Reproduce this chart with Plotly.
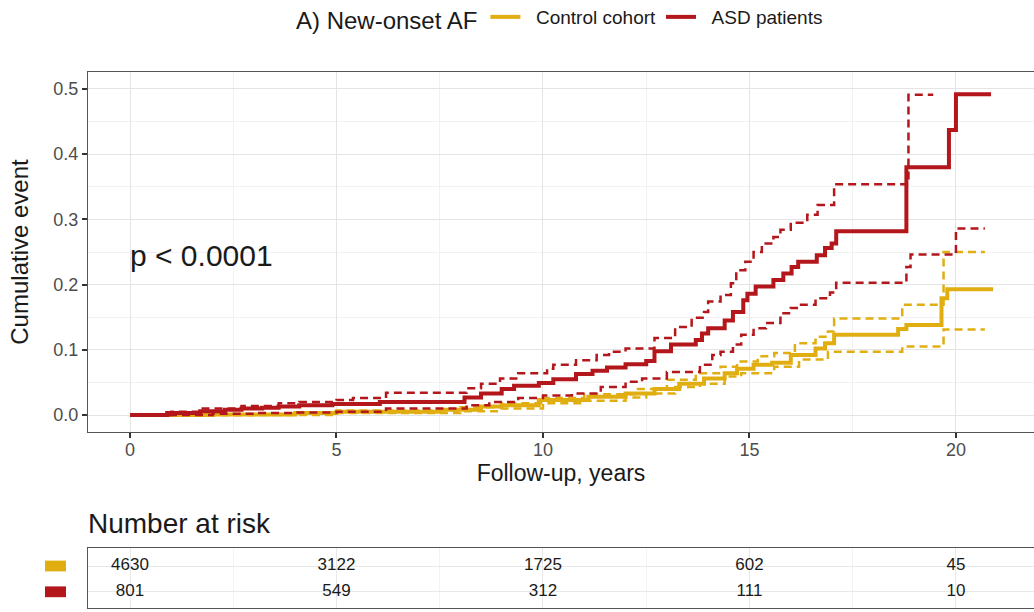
import plotly.graph_objects as go

# ---------------- data ----------------
asd_t = [0, 0.9, 1.7, 2.3, 2.7, 3.2, 3.6, 4.1, 4.9, 6.05, 8.1, 8.5, 9.0, 9.3, 9.9, 10.25, 10.8, 11.2,
         11.55, 12.0, 12.5, 12.7, 13.1, 13.7, 13.85, 14.0, 14.4, 14.6, 14.85, 14.95, 15.15, 15.58,
         15.82, 16.02, 16.18, 16.63, 16.83, 16.99, 17.1, 18.8, 19.83, 20.0, 20.85]
asd_est = [0, 0.003, 0.006, 0.008, 0.010, 0.011, 0.013, 0.015, 0.017, 0.020, 0.027, 0.033, 0.040,
           0.045, 0.049, 0.055, 0.063, 0.068, 0.073, 0.078, 0.083, 0.098, 0.108, 0.115, 0.125, 0.133,
           0.145, 0.158, 0.176, 0.186, 0.197, 0.207, 0.217, 0.227, 0.235, 0.245, 0.256, 0.263, 0.282,
           0.380, 0.437, 0.492, 0.492]

asd_up_t = [0, 1.0, 1.7, 2.7, 3.6, 4.1, 5.0, 5.4, 6.2, 8.15, 8.5, 8.96, 9.4, 10.1, 10.25, 10.8, 11.3,
            11.6, 12.0, 12.7, 13.2, 13.6, 13.9, 14.0, 14.3, 14.55, 14.68, 14.9, 15.1, 15.3, 15.58,
            15.75, 16.0, 16.4, 16.65, 17.05, 18.85, 19.45]
asd_up = [0, 0.005, 0.010, 0.014, 0.018, 0.020, 0.023, 0.026, 0.034, 0.041, 0.048, 0.056, 0.064,
          0.071, 0.077, 0.084, 0.092, 0.097, 0.102, 0.118, 0.135, 0.149, 0.158, 0.174, 0.184, 0.202,
          0.222, 0.235, 0.250, 0.263, 0.273, 0.284, 0.295, 0.307, 0.322, 0.354, 0.491, 0.491]

asd_lo_t = [0, 2.0, 3.0, 4.0, 5.0, 6.2, 8.15, 8.7, 9.4, 10.0, 10.7, 11.4, 12.0, 12.4, 13.0, 13.8,
            14.1, 14.3, 14.6, 14.8, 15.1, 15.4, 15.75, 16.0, 16.2, 16.6, 16.95, 17.1, 18.8, 18.9,
            20.0, 20.7]
asd_lo = [0, 0.002, 0.003, 0.004, 0.005, 0.010, 0.015, 0.020, 0.026, 0.030, 0.033, 0.043, 0.051,
          0.056, 0.066, 0.077, 0.092, 0.097, 0.108, 0.123, 0.133, 0.141, 0.156, 0.164, 0.169, 0.179,
          0.188, 0.203, 0.227, 0.246, 0.286, 0.286]

ctl_t = [0, 2.0, 4.0, 5.0, 7.5, 8.5, 9.0, 9.9, 11.1, 12.0, 12.7, 13.3, 13.9, 14.4, 14.7, 15.1,
         15.55, 16.0, 16.6, 16.83, 17.05, 18.6, 18.8, 19.65, 19.79, 20.9]
ctl_est = [0, 0.001, 0.003, 0.005, 0.008, 0.013, 0.015, 0.023, 0.028, 0.033, 0.040, 0.048, 0.056,
           0.064, 0.071, 0.077, 0.080, 0.092, 0.102, 0.110, 0.123, 0.132, 0.138, 0.179, 0.193, 0.193]

ctl_up_t = [0, 3.0, 5.0, 8.0, 9.0, 10.0, 11.0, 12.3, 13.0, 13.7, 14.3, 14.7, 15.2, 15.6, 16.1,
            16.6, 16.9, 17.05, 18.7, 19.7, 20.7]
ctl_up = [0, 0.002, 0.007, 0.012, 0.018, 0.026, 0.032, 0.040, 0.054, 0.064, 0.074, 0.082, 0.090,
          0.095, 0.110, 0.120, 0.128, 0.148, 0.169, 0.250, 0.250]

ctl_lo_t = [0, 5.0, 8.0, 9.0, 10.0, 11.0, 12.0, 12.5, 13.2, 13.8, 14.4, 14.8, 15.6, 16.2, 16.9,
            18.7, 19.7, 20.7]
ctl_lo = [0, 0.003, 0.006, 0.010, 0.018, 0.022, 0.027, 0.033, 0.043, 0.048, 0.059, 0.064, 0.074,
          0.085, 0.097, 0.105, 0.131, 0.131]

risk_times = [0, 5, 10, 15, 20]
ctl_risk = [4630, 3122, 1725, 602, 45]
asd_risk = [801, 549, 312, 111, 10]

group_names = ["Control cohort", "ASD patients"]
x_ticks = [0, 5, 10, 15, 20]
y_ticks = [0.0, 0.1, 0.2, 0.3, 0.4, 0.5]

# ---------------- style ----------------
GOLD = "#E1AE12"
RED = "#B3171C"
FONT = "Liberation Sans, Arial, sans-serif"
PAD = "\u00a0\u00a0"

fig = go.Figure()

def add_dash(t, v, color):
    fig.add_trace(go.Scatter(x=t, y=v, mode="lines",
                             line=dict(color=color, width=2.5, dash="8px,5px", shape="hv"),
                             showlegend=False, hoverinfo="skip", xaxis="x", yaxis="y"))

add_dash(ctl_up_t, ctl_up, GOLD)
add_dash(ctl_lo_t, ctl_lo, GOLD)
fig.add_trace(go.Scatter(x=ctl_t, y=ctl_est, mode="lines", name=PAD + group_names[0],
                         line=dict(color=GOLD, width=4, shape="hv"), xaxis="x", yaxis="y"))
add_dash(asd_up_t, asd_up, RED)
add_dash(asd_lo_t, asd_lo, RED)
fig.add_trace(go.Scatter(x=asd_t, y=asd_est, mode="lines", name=PAD + group_names[1],
                         line=dict(color=RED, width=4, shape="hv"), xaxis="x", yaxis="y"))

# risk table text
row_y = {group_names[0]: 0.70, group_names[1]: 0.27}
for name, vals in [(group_names[0], ctl_risk), (group_names[1], asd_risk)]:
    fig.add_trace(go.Scatter(x=risk_times, y=[row_y[name]] * len(vals), mode="text",
                             text=[str(v) for v in vals], textposition="middle center",
                             textfont=dict(family=FONT, size=17, color="#1a1a1a"),
                             showlegend=False, hoverinfo="skip", xaxis="x2", yaxis="y2"))

XR = [-1.017, 21.89]
H = 612
top_m, bot_m = 72, 4
ph = H - top_m - bot_m
main_bottom = (H - bot_m - 432) / ph
table_top = (H - bot_m - 548) / ph

axis_common = dict(showline=True, linecolor="#555555", linewidth=1.2,
                   gridcolor="#e4e4e4", gridwidth=1, zeroline=False,
                   ticks="outside", ticklen=5, tickcolor="#333333", tickwidth=1.5)

fig.update_layout(
    width=1034, height=612,
    margin=dict(l=88, r=0, t=top_m, b=bot_m, autoexpand=False),
    paper_bgcolor="white", plot_bgcolor="white",
    font=dict(family=FONT, color="#1a1a1a"),
    xaxis=dict(domain=[0, 1], range=XR, anchor="y", tickvals=x_ticks,
               tickfont=dict(size=18, color="#4d4d4d"), mirror=True, ticklabelstandoff=-4,
               title=dict(text="Follow-up, years", font=dict(size=23, color="#1a1a1a"), standoff=5),
               minor=dict(showgrid=True, gridcolor="#f1f1f1", dtick=2.5, tick0=0), **axis_common),
    yaxis=dict(domain=[main_bottom, 1], range=[-0.026, 0.526], anchor="x", tickvals=y_ticks,
               tickformat=".1f", tickfont=dict(size=18, color="#4d4d4d"),
               title=dict(text="Cumulative event", font=dict(size=24, color="#1a1a1a"), standoff=17),
               minor=dict(showgrid=True, gridcolor="#f1f1f1", dtick=0.05, tick0=0), **axis_common),
    xaxis2=dict(domain=[0, 1], range=XR, anchor="y2", tickvals=x_ticks, showticklabels=False,
                ticks="", showline=True, mirror=True, linecolor="#555555", linewidth=1.2,
                gridcolor="#e8e8e8", zeroline=False,
                minor=dict(showgrid=True, gridcolor="#f3f3f3", dtick=2.5, tick0=0)),
    yaxis2=dict(domain=[0, table_top], range=[0, 1], anchor="x2", showticklabels=False,
                ticks="", showline=True, mirror=True, linecolor="#555555", linewidth=1.2,
                tickvals=[0.27, 0.70], showgrid=True, gridcolor="#e8e8e8", zeroline=False),
    legend=dict(orientation="h", x=0.5, xanchor="center", y=1.138, yanchor="top",
                title=dict(text="A) New-onset AF", font=dict(size=24, color="#1a1a1a")),
                font=dict(size=19, color="#1a1a1a"), itemwidth=30, tracegroupgap=0,
                bgcolor="rgba(0,0,0,0)"),
    showlegend=True,
)

fig.add_annotation(x=0, y=0.245, xref="x", yref="y", text="p < 0.0001", showarrow=False,
                   xanchor="left", yanchor="middle", xshift=-2, font=dict(size=30, color="#1a1a1a"))
fig.add_annotation(x=0, y=(H - bot_m - 523) / ph, xref="paper", yref="paper", text="Number at risk",
                   showarrow=False, xanchor="left", yanchor="middle", xshift=-2,
                   font=dict(size=28, color="#1a1a1a"))

# colored keys of the risk table
for name, color in [(group_names[0], GOLD), (group_names[1], RED)]:
    fig.add_shape(type="rect", xref="paper", yref="y2", x0=-43 / 946, x1=-22 / 946,
                  y0=row_y[name] - 0.09, y1=row_y[name] + 0.09, fillcolor=color, line=dict(width=0),
                  layer="above")

fig.write_html("out.html")
